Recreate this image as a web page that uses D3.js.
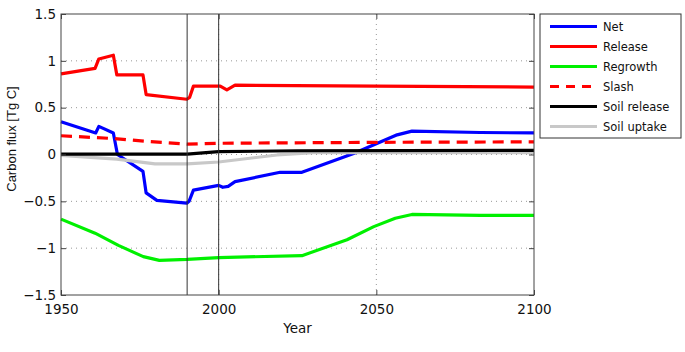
<!DOCTYPE html>
<html>
<head>
<meta charset="utf-8">
<script src="https://cdn.jsdelivr.net/npm/d3@7"></script>
<style>
  body { margin: 0; background: #fff; }
  svg { font-family: "DejaVu Sans", sans-serif; }
</style>
</head>
<body>
<svg id="chart" width="685" height="352"></svg>
<script>
// Data: [year, carbon flux Tg C]
const net = [[1950,0.35],[1961,0.23],[1962,0.30],[1966.6,0.23],[1967.9,0.0],[1976,-0.18],[1977,-0.41],[1980.4,-0.49],[1989.9,-0.52],[1990.6,-0.50],[1992,-0.38],[2000,-0.33],[2001.3,-0.35],[2003,-0.34],[2005.2,-0.29],[2019.5,-0.19],[2026.4,-0.19],[2042.8,0.01],[2056.6,0.21],[2061.3,0.25],[2083,0.235],[2100,0.23]];
const release = [[1950,0.86],[1960.8,0.92],[1962,1.02],[1966.6,1.06],[1967.7,0.85],[1976,0.85],[1977,0.64],[1989.9,0.59],[1990.8,0.61],[1992,0.73],[2000.5,0.73],[2002.6,0.69],[2005.2,0.74],[2050,0.73],[2100,0.72]];
const regrowth = [[1950,-0.69],[1960.8,-0.84],[1968.2,-0.97],[1976.1,-1.09],[1981.2,-1.13],[1990,-1.12],[2000,-1.10],[2026.4,-1.08],[2040.7,-0.91],[2049.2,-0.77],[2056,-0.68],[2061.3,-0.64],[2083,-0.65],[2100,-0.65]];
const slash = [[1950,0.20],[1967,0.17],[1977,0.14],[1990,0.11],[2000,0.12],[2050,0.13],[2100,0.135]];
const soilRelease = [[1950,0.005],[1990,0.005],[2000,0.03],[2025,0.04],[2100,0.045]];
const soilUptake = [[1950,-0.01],[1967.7,-0.05],[1979.8,-0.10],[1990,-0.10],[2000,-0.08],[2018.5,-0.005],[2030,0.02],[2100,0.02]];

const seriesNames = ["Net", "Release", "Regrowth", "Slash", "Soil release", "Soil uptake"];
const xTicks = [1950, 2000, 2050, 2100];
const yTicks = [-1.5, -1, -0.5, 0, 0.5, 1, 1.5];
const markerYears = [1990, 2000];

const series = [
  { name: seriesNames[0], data: net, color: "#0000ff" },
  { name: seriesNames[1], data: release, color: "#ff0000" },
  { name: seriesNames[2], data: regrowth, color: "#00f000" },
  { name: seriesNames[3], data: slash, color: "#ff0000", dash: "11,7" },
  { name: seriesNames[4], data: soilRelease, color: "#000000" },
  { name: seriesNames[5], data: soilUptake, color: "#c8c8c8" }
];

const margin = { left: 61, right: 151, top: 14, bottom: 57 };
const width = 685, height = 352;

const svg = d3.select("#chart");

const x = d3.scaleLinear().domain([1950, 2100]).range([margin.left, width - margin.right]);
const y = d3.scaleLinear().domain([-1.5, 1.5]).range([height - margin.bottom, margin.top]);

const fmt = d => (d < 0 ? "\u2212" + Math.abs(d) : String(d));

// dotted grid
svg.append("g")
  .selectAll("line")
  .data(yTicks.filter(d => d > -1.5 && d < 1.5))
  .join("line")
  .attr("x1", x.range()[0]).attr("x2", x.range()[1])
  .attr("y1", d => y(d)).attr("y2", d => y(d))
  .attr("stroke", "#999").attr("stroke-dasharray", "1,4");

svg.append("g")
  .selectAll("line")
  .data(xTicks.slice(1, -1))
  .join("line")
  .attr("x1", d => x(d)).attr("x2", d => x(d))
  .attr("y1", y.range()[0]).attr("y2", y.range()[1])
  .attr("stroke", "#999").attr("stroke-dasharray", "1,4");

// series
const line = d3.line().x(d => x(d[0])).y(d => y(d[1]));
const drawOrder = [0, 1, 2, 3, 5, 4];
svg.append("g")
  .selectAll("path")
  .data(drawOrder.map(i => series[i]))
  .join("path")
  .attr("d", d => line(d.data))
  .attr("fill", "none")
  .attr("stroke", d => d.color)
  .attr("stroke-width", 3.2)
  .attr("stroke-linejoin", "round")
  .attr("stroke-dasharray", d => d.dash || null);

// vertical marker lines
svg.append("g")
  .selectAll("line")
  .data(markerYears)
  .join("line")
  .attr("x1", d => x(d)).attr("x2", d => x(d))
  .attr("y1", y.range()[0]).attr("y2", y.range()[1])
  .attr("stroke", "#333").attr("stroke-width", 1);

// axes with inward ticks
svg.append("g")
  .attr("transform", `translate(0,${y.range()[0]})`)
  .call(d3.axisBottom(x).tickValues(xTicks).tickSizeInner(-5).tickSizeOuter(0).tickPadding(9).tickFormat(d3.format("d")));
svg.append("g")
  .attr("transform", `translate(${x.range()[0]},0)`)
  .call(d3.axisLeft(y).tickValues(yTicks).tickSizeInner(-5).tickSizeOuter(0).tickPadding(5).tickFormat(fmt));
svg.append("g")
  .attr("transform", `translate(0,${y.range()[1]})`)
  .call(d3.axisTop(x).tickValues(xTicks).tickSizeInner(-5).tickSizeOuter(0).tickFormat(""));
svg.append("g")
  .attr("transform", `translate(${x.range()[1]},0)`)
  .call(d3.axisRight(y).tickValues(yTicks).tickSizeInner(-5).tickSizeOuter(0).tickFormat(""));

svg.selectAll(".domain").remove();
svg.selectAll(".tick line").attr("stroke", "#444");
svg.selectAll(".tick text").attr("font-size", 13.5).attr("fill", "#111")
  .attr("font-family", "DejaVu Sans, sans-serif");

// frame
svg.append("rect")
  .attr("x", x.range()[0]).attr("y", y.range()[1])
  .attr("width", x.range()[1] - x.range()[0])
  .attr("height", y.range()[0] - y.range()[1])
  .attr("fill", "none").attr("stroke", "#444").attr("stroke-width", 1);

// axis titles
svg.append("text")
  .attr("x", (x.range()[0] + x.range()[1]) / 2).attr("y", 333)
  .attr("text-anchor", "middle").attr("font-size", 13.5).attr("fill", "#111")
  .text("Year");
svg.append("text")
  .attr("transform", "translate(15.5,139) rotate(-90)")
  .attr("text-anchor", "middle").attr("font-size", 13)
  .attr("font-family", "Liberation Sans, Arial, sans-serif").attr("fill", "#111")
  .text("Carbon flux [Tg C]");

// legend
const legend = svg.append("g").attr("transform", "translate(540,14)");
legend.append("rect")
  .attr("width", 141).attr("height", 124)
  .attr("fill", "#fff").attr("stroke", "#333");
const item = legend.selectAll("g.item")
  .data(series)
  .join("g")
  .attr("class", "item")
  .attr("transform", (d, i) => `translate(0,${12.5 + i * 20})`);
item.append("line")
  .attr("x1", 10).attr("x2", 57)
  .attr("stroke", d => d.color).attr("stroke-width", 3)
  .attr("stroke-dasharray", d => d.dash ? "9,7" : null);
item.append("text")
  .attr("x", 63).attr("dy", "0.36em")
  .attr("font-size", 11.5).attr("fill", "#111")
  .text(d => d.name);
</script>
</body>
</html>
